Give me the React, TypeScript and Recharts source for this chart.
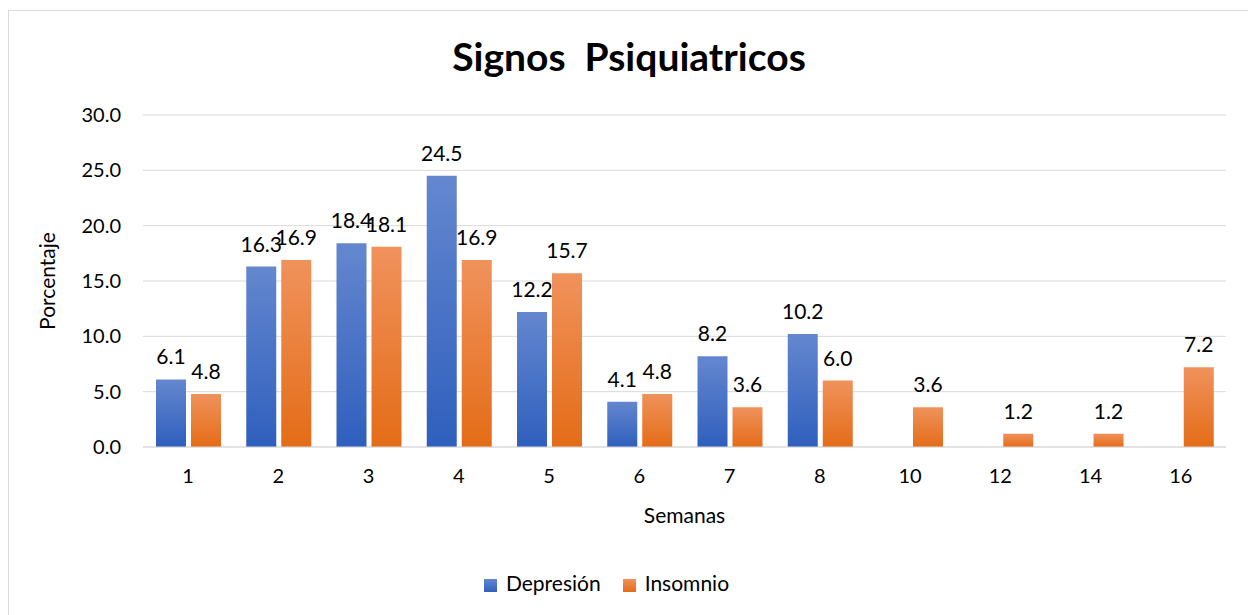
import React from "react";
import { BarChart, Bar, XAxis, YAxis, CartesianGrid, LabelList, Label, Legend } from "recharts";

// semanas y porcentajes
const semanas = ["1", "2", "3", "4", "5", "6", "7", "8", "10", "12", "14", "16"];
const depresion: (number | null)[] = [6.1, 16.3, 18.4, 24.5, 12.2, 4.1, 8.2, 10.2, null, null, null, null];
const insomnio = [4.8, 16.9, 18.1, 16.9, 15.7, 4.8, 3.6, 6.0, 3.6, 1.2, 1.2, 7.2];
const yTicks = [0, 5, 10, 15, 20, 25, 30];

const FONT = "Lato, 'Open Sans', sans-serif";

const data = semanas.map((s, i) => ({ semana: s, dep: depresion[i], ins: insomnio[i] }));

const fmt = (v: unknown) => (typeof v === "number" ? v.toFixed(1) : "");

const txt = { fill: "#000", fontSize: 21, fontFamily: FONT };

export default function App() {
  return (
    <div
      style={{
        position: "relative",
        marginTop: 2,
        width: 1240,
        height: 610,
        border: "1px solid #d9d9d9",
        fontFamily: FONT,
        background: "#fff",
      }}
    >
      <div
        style={{
          position: "absolute",
          top: 22,
          left: 0,
          width: "100%",
          textAlign: "center",
          fontSize: 39,
          fontWeight: 700,
          whiteSpace: "pre",
          color: "#000",
        }}
      >
        {"Signos  Psiquiatricos"}
      </div>
      <BarChart
        width={1240}
        height={610}
        data={data}
        margin={{ top: 104, right: 23, left: 0, bottom: 60 }}
        barCategoryGap={13}
        barGap={5}
      >
        <defs>
          <linearGradient id="gDep" x1="0" y1="0" x2="0" y2="1">
            <stop offset="0%" stopColor="#6487cf" />
            <stop offset="100%" stopColor="#2f5fbd" />
          </linearGradient>
          <linearGradient id="gIns" x1="0" y1="0" x2="0" y2="1">
            <stop offset="0%" stopColor="#f0925c" />
            <stop offset="100%" stopColor="#e46c17" />
          </linearGradient>
        </defs>
        <CartesianGrid vertical={false} stroke="#d9d9d9" />
        <XAxis
          dataKey="semana"
          axisLine={{ stroke: "#d9d9d9" }}
          tickLine={false}
          tickSize={0}
          tickMargin={22}
          height={90}
          tick={{ ...txt, fontSize: 20 }}
        >
          <Label value="Semanas" position="insideBottom" offset={14} style={txt} />
        </XAxis>
        <YAxis
          domain={[0, 30]}
          ticks={yTicks}
          interval={0}
          axisLine={false}
          tickLine={false}
          tickSize={0}
          tickMargin={22}
          width={134}
          tickFormatter={(v: number) => v.toFixed(1)}
          tick={{ ...txt, fontSize: 20 }}
        >
          <Label
            value="Porcentaje"
            angle={-90}
            position="insideLeft"
            offset={39}
            style={{ ...txt, textAnchor: "middle" }}
          />
        </YAxis>
        <Legend
          verticalAlign="bottom"
          align="center"
          iconType="square"
          iconSize={13}
          wrapperStyle={{ fontSize: 21, fontFamily: FONT, lineHeight: "24px", height: 24, bottom: 26 }}
          formatter={(v: string) => (
            <span style={{ color: "#000", marginLeft: 5, marginRight: 12 }}>{v}</span>
          )}
        />
        <Bar dataKey="dep" name="Depresión" fill="url(#gDep)" isAnimationActive={false} legendType="square">
          <LabelList dataKey="dep" position="top" offset={15} formatter={fmt} style={txt} />
        </Bar>
        <Bar dataKey="ins" name="Insomnio" fill="url(#gIns)" isAnimationActive={false} legendType="square">
          <LabelList dataKey="ins" position="top" offset={15} formatter={fmt} style={txt} />
        </Bar>
      </BarChart>
    </div>
  );
}
